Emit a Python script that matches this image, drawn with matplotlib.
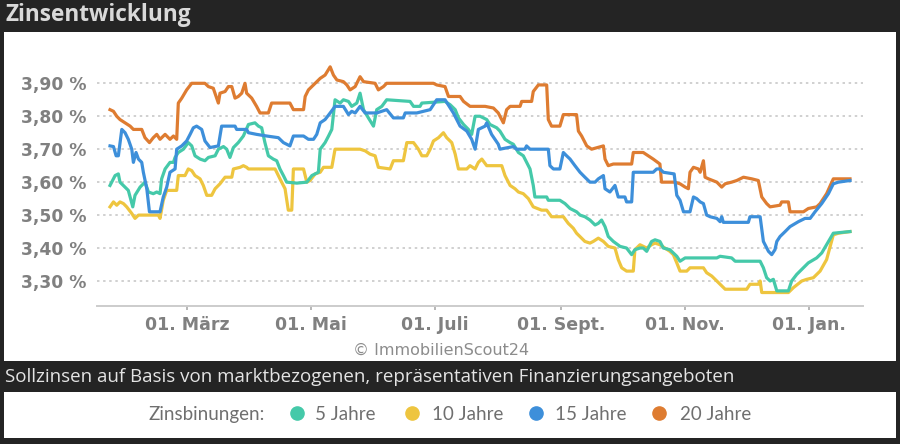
import matplotlib
matplotlib.use("Agg")
import matplotlib.pyplot as plt
from matplotlib.patches import Rectangle
from matplotlib.lines import Line2D
from matplotlib.ticker import FuncFormatter

# ---------------- data (days relative to 01. März, interest rate in %) ----------------
days_5 = [-37.9, -35.4, -33.8, -33.0, -30.5, -28.9, -26.7, -25.6, -23.1, -20.7, -19.0, -16.6, -14.9, -13.3,
          -12.5, -10.8, -8.4, -6.7, -5.9, -4.3, -1.8, 0.6, 2.3, 3.9, 6.4, 8.8, 10.5, 13.8, 15.4, 17.9, 19.5,
          21.1, 22.8, 25.2, 27.7, 30.2, 33.4, 35.1, 36.7, 38.3, 40.0, 42.4, 44.1, 45.7, 47.4, 49.0, 54.0,
          58.9, 61.4, 64.6, 65.5, 67.9, 69.6, 71.2, 72.8, 75.3, 76.9, 79.4, 81.0, 83.5, 85.1, 86.8, 89.2,
          91.7, 93.3, 95.8, 98.2, 109.7, 111.4, 114.6, 115.5, 126.9, 129.4, 131.9, 133.5, 136.0, 138.4,
          140.0, 141.7, 144.1, 147.4, 149.0, 152.3, 153.9, 156.4, 158.9, 160.5, 163.0, 165.4, 168.7, 170.3,
          171.1, 176.9, 177.7, 183.4, 185.9, 188.4, 191.6, 193.3, 195.7, 198.2, 200.7, 202.3, 203.9, 205.6,
          207.2, 209.7, 213.0, 216.2, 218.7, 220.3, 222.8, 224.4, 226.1, 228.5, 230.2, 232.6, 234.3, 237.5,
          240.0, 240.9, 242.5, 245.0, 260.6, 262.2, 267.9, 269.6, 281.9, 283.5, 285.1, 286.8, 288.4, 290.1,
          295.8, 297.4, 299.9, 303.2, 305.6, 309.7, 312.2, 314.6, 317.9, 326.1]
rate_5 = [3.59, 3.62, 3.625, 3.60, 3.585, 3.575, 3.525, 3.56, 3.585, 3.60, 3.57, 3.565, 3.57, 3.565,
          3.61, 3.64, 3.66, 3.66, 3.675, 3.69, 3.70, 3.72, 3.71, 3.68, 3.67, 3.665, 3.675, 3.68, 3.70, 3.708,
          3.70, 3.675, 3.705, 3.72, 3.74, 3.775, 3.78, 3.77, 3.765, 3.72, 3.68, 3.67, 3.665, 3.64, 3.62,
          3.60, 3.597, 3.60, 3.62, 3.63, 3.70, 3.72, 3.74, 3.76, 3.85, 3.84, 3.85, 3.845, 3.83, 3.84, 3.87,
          3.82, 3.795, 3.77, 3.82, 3.83, 3.85, 3.845, 3.83, 3.83, 3.84, 3.845, 3.835, 3.82, 3.795, 3.775,
          3.76, 3.745, 3.80, 3.80, 3.79, 3.775, 3.765, 3.755, 3.73, 3.72, 3.715, 3.69, 3.68, 3.64, 3.59,
          3.555, 3.555, 3.545, 3.545, 3.535, 3.52, 3.51, 3.50, 3.495, 3.485, 3.47, 3.475, 3.485, 3.465,
          3.435, 3.42, 3.405, 3.40, 3.38, 3.395, 3.40, 3.40, 3.39, 3.42, 3.425, 3.42, 3.40, 3.395,
          3.38, 3.375, 3.36, 3.37, 3.37, 3.375, 3.37, 3.36, 3.36, 3.34, 3.31, 3.30, 3.305, 3.27,
          3.27, 3.30, 3.32, 3.34, 3.355, 3.37, 3.385, 3.41, 3.445, 3.45]

days_10 = [-37.9, -36.2, -34.6, -33.0, -31.3, -29.7, -27.2, -25.6, -23.9, -14.1, -13.3, -11.7, -10.0, -5.1,
           -4.3, -1.0, 0.6, 2.3, 3.9, 6.4, 8.0, 9.7, 12.1, 13.8, 16.2, 18.7, 22.0, 22.8, 26.1, 27.7, 29.3,
           30.2, 43.3, 45.7, 48.2, 49.8, 51.5, 52.3, 57.3, 58.9, 60.5, 63.0, 65.5, 67.1, 71.2, 72.8, 85.1,
           87.6, 90.0, 92.5, 94.1, 99.9, 101.5, 106.4, 108.1, 111.4, 113.8, 115.5, 117.9, 119.6, 121.2,
           123.7, 126.1, 127.7, 130.2, 131.9, 133.5, 137.6, 139.2, 141.7, 143.3, 145.0, 147.4, 154.8,
           156.4, 158.9, 161.3, 163.0, 165.4, 167.9, 170.3, 174.4, 176.9, 179.3, 185.1, 187.5, 190.0,
           191.6, 194.1, 195.7, 198.2, 199.8, 202.3, 204.8, 207.2, 210.5, 212.1, 213.8, 216.2, 219.5,
           220.3, 222.8, 226.1, 228.5, 230.2, 232.6, 235.1, 237.5, 239.2, 240.9, 242.5, 245.8, 247.4,
           254.0, 255.6, 258.1, 260.6, 262.2, 264.7, 275.3, 276.9, 281.0, 281.9, 282.7, 295.8, 298.3,
           302.4, 304.8, 308.1, 311.4, 314.6, 317.9, 320.4, 326.1]
rate_10 = [3.525, 3.54, 3.53, 3.54, 3.535, 3.525, 3.505, 3.49, 3.50, 3.50, 3.49, 3.545, 3.575, 3.575,
           3.62, 3.62, 3.64, 3.635, 3.62, 3.61, 3.59, 3.56, 3.56, 3.58, 3.595, 3.615, 3.615, 3.64, 3.645,
           3.65, 3.645, 3.64, 3.64, 3.61, 3.58, 3.515, 3.515, 3.64, 3.64, 3.60, 3.605, 3.625, 3.63, 3.645,
           3.645, 3.70, 3.70, 3.695, 3.685, 3.68, 3.645, 3.64, 3.665, 3.665, 3.72, 3.72, 3.70, 3.68, 3.68,
           3.70, 3.725, 3.735, 3.75, 3.735, 3.72, 3.685, 3.64, 3.64, 3.65, 3.64, 3.66, 3.67, 3.65, 3.65,
           3.62, 3.59, 3.58, 3.57, 3.565, 3.55, 3.525, 3.515, 3.515, 3.495, 3.495, 3.475, 3.46,
           3.445, 3.43, 3.42, 3.415, 3.42, 3.43, 3.42, 3.405, 3.40, 3.365, 3.34, 3.33, 3.33,
           3.395, 3.41, 3.40, 3.41, 3.415, 3.41, 3.40, 3.39, 3.38, 3.355, 3.33, 3.33, 3.34,
           3.34, 3.325, 3.315, 3.30, 3.29, 3.275, 3.275, 3.29, 3.29, 3.30, 3.265, 3.265, 3.28,
           3.30, 3.305, 3.31, 3.33, 3.365, 3.44, 3.445, 3.45]

days_15 = [-37.9, -36.2, -34.9, -33.8, -32.1, -30.5, -28.9, -27.2, -26.4, -25.1, -23.9, -22.3, -21.5, -19.8,
           -18.5, -13.3, -11.7, -10.0, -8.4, -5.9, -5.1, -2.6, -0.2, 1.5, 3.1, 4.7, 7.2, 8.8, 11.3, 15.4,
           17.0, 23.6, 24.4, 29.3, 30.2, 34.2, 39.2, 44.9, 47.4, 50.6, 52.3, 57.3, 59.7, 62.2, 63.8, 65.5,
           67.9, 70.4, 72.8, 76.9, 79.4, 81.0, 82.7, 85.1, 87.6, 93.3, 95.8, 98.2, 101.5, 106.4, 107.3,
           113.0, 116.3, 119.6, 122.8, 126.9, 131.0, 134.3, 137.6, 140.0, 141.7, 143.3, 146.6, 147.4,
           149.8, 153.1, 153.9, 160.5, 162.1, 166.2, 167.0, 168.7, 177.7, 178.5, 180.2, 183.4, 185.1,
           186.7, 188.4, 190.8, 193.3, 195.7, 198.2, 200.7, 202.3, 204.8, 205.6, 208.0, 210.5, 212.1,
           215.4, 216.2, 218.7, 219.5, 229.3, 231.0, 232.6, 234.3, 239.6, 240.9, 242.5, 244.2, 247.4,
           249.1, 250.7, 252.4, 254.0, 255.6, 257.3, 260.6, 262.2, 263.0, 263.8, 276.1, 276.9, 281.9,
           283.5, 286.0, 287.6, 289.2, 290.1, 291.7, 294.2, 296.6, 300.7, 304.0, 306.5, 308.9, 312.2,
           315.5, 317.9, 320.4, 326.1]
rate_15 = [3.71, 3.708, 3.68, 3.68, 3.76, 3.75, 3.73, 3.70, 3.66, 3.69, 3.67, 3.66, 3.63, 3.58,
           3.51, 3.51, 3.555, 3.585, 3.63, 3.64, 3.70, 3.71, 3.725, 3.745, 3.765, 3.77, 3.76, 3.725, 3.705,
           3.71, 3.77, 3.77, 3.76, 3.76, 3.75, 3.745, 3.74, 3.735, 3.72, 3.71, 3.74, 3.74, 3.73, 3.73,
           3.745, 3.78, 3.79, 3.81, 3.83, 3.83, 3.805, 3.815, 3.81, 3.83, 3.81, 3.81, 3.815, 3.82, 3.795,
           3.795, 3.81, 3.81, 3.815, 3.82, 3.85, 3.85, 3.81, 3.77, 3.755, 3.73, 3.70, 3.76, 3.77, 3.78,
           3.745, 3.715, 3.70, 3.708, 3.70, 3.70, 3.71, 3.70, 3.70, 3.65, 3.64, 3.64, 3.69,
           3.68, 3.67, 3.65, 3.63, 3.615, 3.60, 3.60, 3.61, 3.62, 3.58, 3.57, 3.59, 3.555,
           3.555, 3.54, 3.54, 3.63, 3.63, 3.64, 3.64, 3.63, 3.625, 3.56, 3.545, 3.51, 3.51,
           3.555, 3.55, 3.54, 3.535, 3.50, 3.495, 3.49, 3.48, 3.495, 3.478, 3.478, 3.495, 3.495,
           3.42, 3.39, 3.38, 3.395, 3.42, 3.435, 3.45, 3.465, 3.48, 3.49, 3.49, 3.51, 3.535,
           3.565, 3.595, 3.60, 3.605]

days_20 = [-37.9, -36.2, -34.6, -33.0, -30.5, -28.0, -26.4, -22.3, -20.7, -18.5, -16.6, -14.9, -13.3, -10.8,
           -8.4, -6.7, -5.1, -4.3, -2.6, -0.2, 2.3, 8.8, 10.5, 12.9, 15.4, 16.2, 18.7, 20.3, 22.0, 23.6,
           25.2, 26.9, 28.5, 29.3, 31.8, 34.2, 35.9, 40.0, 41.6, 50.6, 52.3, 57.3, 58.1, 59.7, 63.0, 65.5,
           67.9, 70.4, 72.0, 73.7, 76.9, 78.6, 80.2, 82.7, 85.1, 86.8, 92.5, 94.1, 96.6, 98.2, 121.2,
           122.8, 126.9, 128.6, 134.3, 136.0, 139.2, 146.6, 150.7, 153.1, 155.6, 157.2, 158.9, 163.8,
           164.6, 169.5, 170.3, 172.8, 176.9, 177.7, 179.3, 183.4, 185.1, 191.6, 192.5, 194.1, 196.6,
           199.0, 204.8, 205.6, 207.2, 209.7, 218.7, 219.5, 224.4, 226.9, 229.3, 232.6, 233.4, 240.0,
           242.5, 245.0, 246.6, 247.4, 249.1, 251.5, 252.4, 254.0, 254.8, 256.5, 260.6, 263.0, 264.7,
           267.9, 270.4, 273.7, 277.8, 281.0, 282.7, 285.1, 286.8, 291.7, 292.5, 295.8, 296.6, 303.2,
           305.6, 309.7, 311.4, 314.6, 317.9, 326.1]
rate_20 = [3.82, 3.815, 3.80, 3.79, 3.78, 3.77, 3.76, 3.76, 3.735, 3.72, 3.735, 3.745, 3.73, 3.745,
           3.73, 3.74, 3.73, 3.84, 3.855, 3.88, 3.90, 3.90, 3.89, 3.885, 3.84, 3.87, 3.875, 3.89, 3.89, 3.855,
           3.86, 3.87, 3.90, 3.87, 3.855, 3.83, 3.81, 3.81, 3.84, 3.84, 3.82, 3.82, 3.86, 3.88, 3.90, 3.915,
           3.925, 3.95, 3.925, 3.91, 3.905, 3.895, 3.88, 3.89, 3.92, 3.905, 3.90, 3.88, 3.89, 3.90, 3.90,
           3.895, 3.89, 3.86, 3.86, 3.845, 3.83, 3.83, 3.825, 3.81, 3.78, 3.82, 3.83, 3.83,
           3.845, 3.845, 3.875, 3.895, 3.895, 3.79, 3.77, 3.77, 3.805, 3.805, 3.755, 3.74, 3.71,
           3.70, 3.71, 3.67, 3.65, 3.655, 3.655, 3.69, 3.69, 3.68, 3.67, 3.655, 3.60, 3.60,
           3.595, 3.585, 3.58, 3.63, 3.645, 3.64, 3.63, 3.665, 3.615, 3.61, 3.60, 3.585, 3.595,
           3.60, 3.605, 3.615, 3.61, 3.605, 3.555, 3.535, 3.525, 3.53, 3.54, 3.54, 3.51, 3.51,
           3.52, 3.525, 3.535, 3.565, 3.61, 3.61]

tick_days = [0, 61, 122, 184, 245, 306]
tick_labels = ["01. März", "01. Mai", "01. Juli", "01. Sept.", "01. Nov.", "01. Jan."]
y_ticks = [3.30, 3.40, 3.50, 3.60, 3.70, 3.80, 3.90]
series_names = ["5 Jahre", "10 Jahre", "15 Jahre", "20 Jahre"]

# ---------------- styling ----------------
C5, C10, C15, C20 = "#45C9A9", "#EEC53F", "#3D8FDA", "#DE7C31"
W, H = 900, 444
DARK = "#242424"

fig = plt.figure(figsize=(9, 4.44), dpi=100, facecolor=DARK)

bg = fig.add_axes([0, 0, 1, 1])
bg.set_xlim(0, W)
bg.set_ylim(H, 0)
bg.axis("off")
bg.add_patch(Rectangle((4, 32), 892, 329, facecolor="white", edgecolor="none"))
bg.add_patch(Rectangle((4, 392), 892, 46, facecolor="white", edgecolor="none"))
bg.text(5, 15, "Zinsentwicklung", family="Open Sans", weight="bold", size=16.3,
        color="#d9d9d9", ha="left", va="center")
bg.text(5, 377, "Sollzinsen auf Basis von marktbezogenen, repräsentativen Finanzierungsangeboten",
        family="Open Sans", size=13.5, color="#e4e4e4", ha="left", va="center")
bg.text(441, 350, "© ImmobilienScout24", family="DejaVu Sans", size=11.5,
        color="#8c8c8c", ha="center", va="center")

# legend row
LEG = "#6f6f6f"
bg.text(265, 414, "Zinsbinungen:", family="Lato", size=13.5,
        color=LEG, ha="right", va="center")
for mx, tx, col, name in zip([297, 412, 536, 659], [315, 432, 555, 680],
                             [C5, C10, C15, C20], series_names):
    bg.add_line(Line2D([mx], [413], marker="o", markersize=9.5, color=col, linestyle="none"))
    bg.text(tx, 414, name, family="Lato", size=13.5,
            color=LEG, ha="left", va="center")

# chart axes
ax = fig.add_axes([97 / W, 1 - 306 / H, 766 / W, 246 / H])
ax.patch.set_alpha(0)
ax.set_xlim(-44.3, 332.5)
ax.set_ylim(3.2241, 3.9707)

lw = 2.3
ax.plot(days_20, rate_20, color=C20, lw=lw, solid_joinstyle="round", zorder=3)
ax.plot(days_10, rate_10, color=C10, lw=lw, solid_joinstyle="round", zorder=3)
ax.plot(days_5, rate_5, color=C5, lw=lw, solid_joinstyle="round", zorder=4)
ax.plot(days_15, rate_15, color=C15, lw=lw, solid_joinstyle="round", zorder=4)

for s in ["top", "left", "right"]:
    ax.spines[s].set_visible(False)
ax.spines["bottom"].set_color("#cccccc")
ax.spines["bottom"].set_linewidth(1.4)

ax.set_yticks(y_ticks)
ax.yaxis.set_major_formatter(FuncFormatter(lambda v, p: f"{v:.2f} %".replace(".", ",")))
ax.yaxis.grid(True, linestyle=(0, (1.6, 2.4)), color="#c4c4c4", lw=1.1, zorder=0)
ax.tick_params(axis="y", length=0, pad=7.5, labelsize=12.3, labelcolor="#808080")
for t in ax.get_yticklabels():
    t.set_fontweight("bold")

ax.set_xticks(tick_days)
ax.set_xticklabels(tick_labels)
ax.tick_params(axis="x", length=3, width=1.2, color="#aaaaaa", pad=4,
               labelsize=12.5, labelcolor="#808080")
for t in ax.get_xticklabels():
    t.set_fontweight("bold")

fig.savefig("out.png", dpi=100, facecolor=DARK)
